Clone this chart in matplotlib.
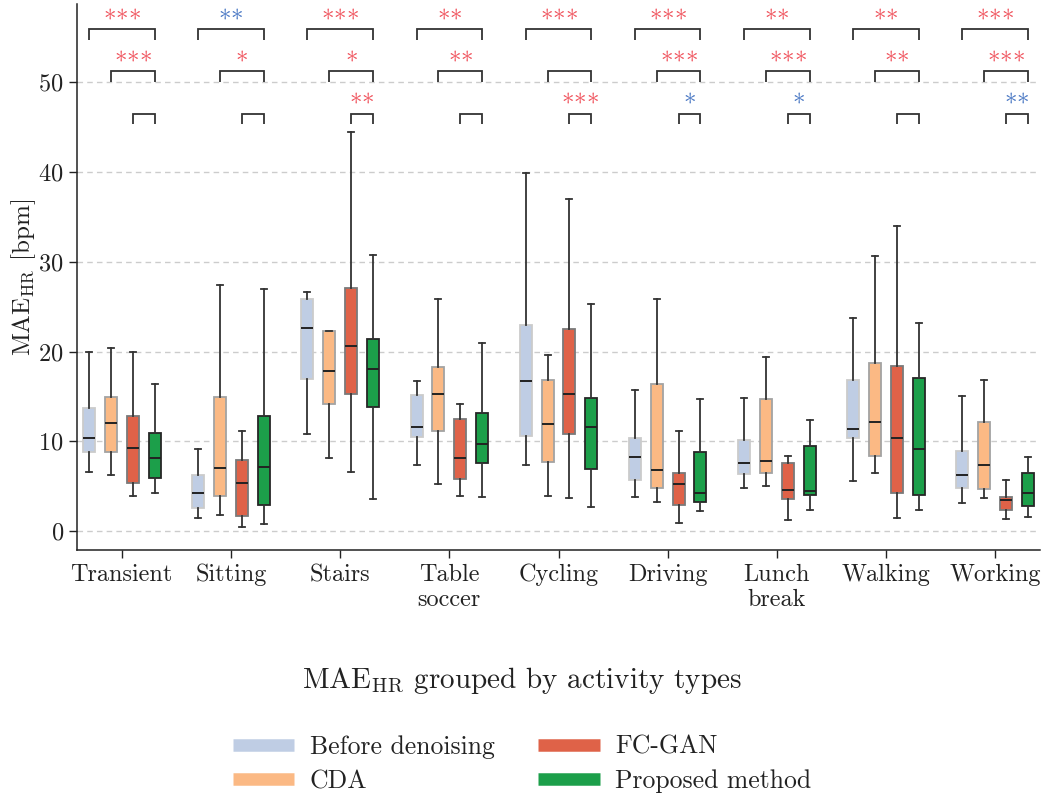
import matplotlib
matplotlib.use("Agg")
import matplotlib.pyplot as plt
from matplotlib.lines import Line2D

plt.rcParams['font.family'] = ['cmr10', 'DejaVu Serif']
plt.rcParams['mathtext.fontset'] = 'cm'
plt.rcParams['axes.formatter.use_mathtext'] = True
plt.rcParams['axes.unicode_minus'] = False

categories = ["Transient", "Sitting", "Stairs", "Table\nsoccer", "Cycling",
              "Driving", "Lunch\nbreak", "Walking", "Working"]
methods = ["Before denoising", "CDA", "FC-GAN", "Proposed method"]

# Box statistics per method: [whislo, q1, median, q3, whishi] for each category
before = [
    [6.6, 8.8, 10.4, 13.7, 20.0],
    [1.5, 2.6, 4.2, 6.2, 9.1],
    [10.8, 16.9, 22.6, 25.8, 26.6],
    [7.4, 10.5, 11.6, 15.2, 16.7],
    [7.4, 10.6, 16.7, 22.9, 39.9],
    [3.8, 5.7, 8.3, 10.4, 15.7],
    [4.8, 6.4, 7.6, 10.1, 14.8],
    [5.6, 10.4, 11.4, 16.8, 23.7],
    [3.1, 4.8, 6.3, 8.9, 15.1],
]
cda = [
    [6.2, 8.8, 12.0, 14.9, 20.4],
    [1.8, 3.9, 7.0, 14.9, 27.4],
    [8.2, 14.2, 17.8, 22.3, 22.3],
    [5.2, 11.1, 15.3, 18.3, 25.8],
    [3.9, 7.7, 11.9, 16.8, 19.6],
    [3.2, 4.8, 6.8, 16.4, 25.8],
    [5.0, 6.5, 7.8, 14.7, 19.4],
    [6.5, 8.4, 12.1, 18.7, 30.6],
    [3.7, 4.7, 7.4, 12.1, 16.8],
]
fcgan = [
    [3.9, 5.4, 9.3, 12.8, 19.9],
    [0.5, 1.7, 5.4, 7.9, 11.2],
    [6.6, 15.3, 20.6, 27.1, 44.4],
    [3.9, 5.8, 8.1, 12.5, 14.2],
    [3.7, 10.8, 15.3, 22.5, 37.0],
    [0.9, 2.9, 5.2, 6.5, 11.1],
    [1.2, 3.6, 4.6, 7.6, 8.4],
    [1.5, 4.3, 10.4, 18.4, 34.0],
    [1.4, 2.3, 3.5, 3.8, 5.7],
]
proposed = [
    [4.2, 5.9, 8.2, 10.9, 16.4],
    [0.8, 2.9, 7.1, 12.8, 27.0],
    [3.6, 13.8, 18.1, 21.4, 30.7],
    [3.8, 7.6, 9.7, 13.2, 21.0],
    [2.7, 6.9, 11.6, 14.8, 25.3],
    [2.2, 3.2, 4.3, 8.8, 14.7],
    [2.4, 4.0, 4.5, 9.5, 12.4],
    [2.3, 4.0, 9.1, 17.1, 23.2],
    [1.6, 2.8, 4.3, 6.5, 8.3],
]
series = [before, cda, fcgan, proposed]

# Significance labels: comparisons of each baseline vs proposed method
sig_before = ["***", "**", "***", "**", "***", "***", "**", "**", "***"]
sig_before_col = ["r", "b", "r", "r", "r", "r", "r", "r", "r"]
sig_cda = ["***", "*", "*", "**", "", "***", "***", "**", "***"]
sig_cda_col = ["r", "r", "r", "r", "r", "r", "r", "r", "r"]
sig_fcgan = ["", "", "**", "", "***", "*", "*", "", "**"]
sig_fcgan_col = ["r", "r", "r", "r", "r", "b", "b", "r", "b"]

fills = ["#bfcde4", "#fbb984", "#df6248", "#1c9f4a"]
edges = ["#cbcbcb", "#a3a3a3", "#7a7a7a", "#262626"]
star_colors = {"r": "#f0525c", "b": "#4a78c4"}
text_color = "#222222"

fig = plt.figure(figsize=(10.44, 7.99), dpi=100)
ax = fig.add_axes([77 / 1044, 1 - 550 / 799, (1040 - 77) / 1044, (550 - 4) / 799])

offsets = [-0.3, -0.1, 0.1, 0.3]
bw = 0.11
for s_idx, data in enumerate(series):
    stats = []
    for vals in data:
        lo, q1, med, q3, hi = vals
        stats.append(dict(whislo=lo, q1=q1, med=med, q3=q3, whishi=hi, fliers=[]))
    pos = [i + offsets[s_idx] for i in range(len(categories))]
    ax.bxp(stats, positions=pos, widths=bw, capwidths=bw * 0.5, patch_artist=True,
           showfliers=False, manage_ticks=False,
           boxprops=dict(facecolor=fills[s_idx], edgecolor=edges[s_idx], linewidth=1.3),
           whiskerprops=dict(color="#333333", linewidth=1.3),
           capprops=dict(color="#333333", linewidth=1.3),
           medianprops=dict(color="#222222", linewidth=1.4),
           zorder=3)

# Significance brackets
levels = [(55.9, 0, sig_before, sig_before_col), (51.2, 1, sig_cda, sig_cda_col),
          (46.5, 2, sig_fcgan, sig_fcgan_col)]
drop = 1.2
for h, left_idx, labels, cols in levels:
    for i in range(len(categories)):
        x1 = i + offsets[left_idx]
        x2 = i + offsets[3]
        ax.plot([x1, x1, x2, x2], [h - drop, h, h, h - drop], color="#333333",
                lw=1.3, solid_capstyle="butt", solid_joinstyle="miter", zorder=4,
                clip_on=False)
        if labels[i]:
            ax.text((x1 + x2) / 2, h + 1.75, "$" + r"{\ast}" * len(labels[i]) + "$",
                    ha="center", va="center", fontsize=18,
                    color=star_colors[cols[i]], zorder=5)

ax.set_xlim(-0.41, 8.41)
ax.set_ylim(-2.1, 58.7)
ax.set_yticks([0, 10, 20, 30, 40, 50])
ax.set_xticks(range(len(categories)))
ax.set_xticklabels(categories, fontsize=17.5, color=text_color, linespacing=1.15)
ax.tick_params(axis="y", labelsize=17.5, labelcolor=text_color, length=6, width=1, color="#222222")
ax.tick_params(axis="x", length=6, width=1, color="#222222", pad=4)
ax.grid(axis="y", color="#cccccc", linestyle=(0, (4, 3)), linewidth=1, zorder=0)
ax.set_axisbelow(True)
for sp in ["top", "right"]:
    ax.spines[sp].set_visible(False)
for sp in ["left", "bottom"]:
    ax.spines[sp].set_color("#222222")
    ax.spines[sp].set_linewidth(1.1)

ax.set_ylabel(r"MAE$_{\mathrm{HR}}$ [bpm]", fontsize=18, color=text_color, labelpad=0)

fig.text(0.5, 1 - 680 / 799, r"MAE$_{\mathrm{HR}}$ grouped by activity types",
         ha="center", va="center", fontsize=21, color=text_color)

handles = [Line2D([0], [0], color=c, lw=9, solid_capstyle="butt") for c in fills]
fig.legend(handles, methods, loc="center", bbox_to_anchor=(0.5, 1 - 764 / 799),
           ncol=2, frameon=False, fontsize=18.5, handlelength=2.4,
           handletextpad=0.6, columnspacing=1.7, labelspacing=0.42,
           labelcolor=text_color)

fig.savefig("out.png", dpi=100)
